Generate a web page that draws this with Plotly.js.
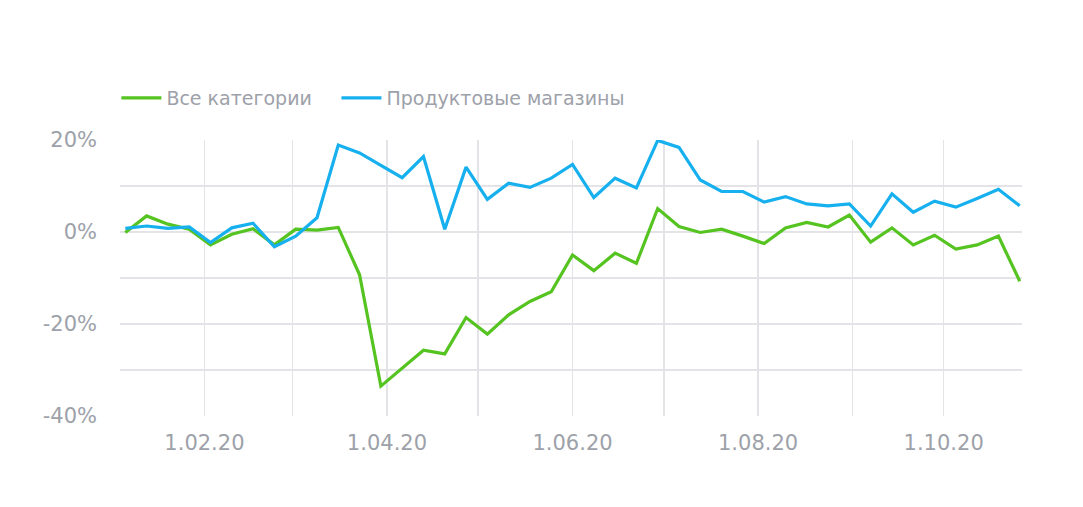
<!DOCTYPE html>
<html>
<head>
<meta charset="utf-8">
<script src="https://cdn.plot.ly/plotly-3.0.1.min.js"></script>
<style>
html,body{margin:0;padding:0;background:#fff;}
#chart{width:1083px;height:507px;}
</style>
</head>
<body>
<div id="chart"></div>
<script>
const dates = ["2020-01-06","2020-01-13","2020-01-20","2020-01-27","2020-02-03","2020-02-10","2020-02-17","2020-02-24",
"2020-03-02","2020-03-09","2020-03-16","2020-03-23","2020-03-30","2020-04-06","2020-04-13","2020-04-20","2020-04-27",
"2020-05-04","2020-05-11","2020-05-18","2020-05-25","2020-06-01","2020-06-08","2020-06-15","2020-06-22","2020-06-29",
"2020-07-06","2020-07-13","2020-07-20","2020-07-27","2020-08-03","2020-08-10","2020-08-17","2020-08-24","2020-08-31",
"2020-09-07","2020-09-14","2020-09-21","2020-09-28","2020-10-05","2020-10-12","2020-10-19","2020-10-26"];

const allCategories = [-0.1, 3.5, 1.7, 0.6, -2.8, -0.5, 0.7, -2.8, 0.6, 0.4, 1.0, -9.3, -33.5, -29.6, -25.7, -26.5, -18.6,
-22.2, -18.0, -15.1, -13.0, -5.0, -8.4, -4.6, -6.8, 5.1, 1.2, -0.1, 0.6, -0.9, -2.5, 0.9, 2.1, 1.1, 3.7,
-2.2, 0.9, -2.8, -0.7, -3.7, -2.8, -0.9, -10.7];

const groceryStores = [0.8, 1.3, 0.8, 1.1, -2.3, 0.9, 1.9, -3.2, -0.9, 3.1, 18.9, 17.2, 14.5, 11.8, 16.4, 0.6, 14.1,
7.1, 10.6, 9.7, 11.7, 14.7, 7.5, 11.7, 9.6, 19.9, 18.4, 11.3, 8.8, 8.8, 6.5, 7.7, 6.1, 5.7, 6.1,
1.3, 8.3, 4.3, 6.7, 5.4, 7.3, 9.3, 5.7];

const seriesNames = ["Все категории", "Продуктовые магазины"];

const xTickVals = ["2020-02-01","2020-03-01","2020-04-01","2020-05-01","2020-06-01","2020-07-01","2020-08-01","2020-09-01","2020-10-01"];
const xTickText = ["1.02.20","","1.04.20","","1.06.20","","1.08.20","","1.10.20"];
const yTickVals = [-40,-30,-20,-10,0,10,20];
const yTickText = ["-40%","","-20%","","0%","","20%"];

const FONT = "DejaVu Sans, sans-serif";
const GREY = "#9da1a9";
const traces = [
  {x: dates, y: allCategories, name: seriesNames[0], type: "scatter", mode: "lines", legend: "legend",
   line: {color: "#55c320", width: 3.2}},
  {x: dates, y: groceryStores, name: seriesNames[1], type: "scatter", mode: "lines", legend: "legend2",
   line: {color: "#17b0ef", width: 3.2}}
];

const legendCommon = {orientation: "h", xanchor: "left", y: 1.152, yanchor: "middle", itemwidth: 40,
                      font: {size: 19, color: GREY, family: FONT}};

const layout = {
  width: 1083, height: 507,
  margin: {l: 120, r: 61, t: 140, b: 91},
  paper_bgcolor: "#ffffff", plot_bgcolor: "#ffffff",
  font: {family: FONT, color: GREY},
  showlegend: true,
  legend: Object.assign({x: -0.004}, legendCommon),
  legend2: Object.assign({x: 0.240}, legendCommon),
  xaxis: {type: "date", range: ["2020-01-04 06:00", "2020-10-26 18:00"],
          tickmode: "array", tickvals: xTickVals, ticktext: xTickText,
          showgrid: true, gridcolor: "#e3e3e8", gridwidth: 1.5, zeroline: false, showline: false,
          ticks: "", ticklabelstandoff: 12, tickfont: {size: 21, color: GREY}, fixedrange: true},
  yaxis: {range: [-40, 20], tickmode: "array", tickvals: yTickVals, ticktext: yTickText,
          showgrid: true, gridcolor: "#e3e3e8", gridwidth: 1.5, zeroline: false, showline: false,
          ticks: "", ticklabelstandoff: 22, tickfont: {size: 21, color: GREY}, fixedrange: true}
};

Plotly.newPlot("chart", traces, layout, {displayModeBar: false, staticPlot: true});
</script>
</body>
</html>
